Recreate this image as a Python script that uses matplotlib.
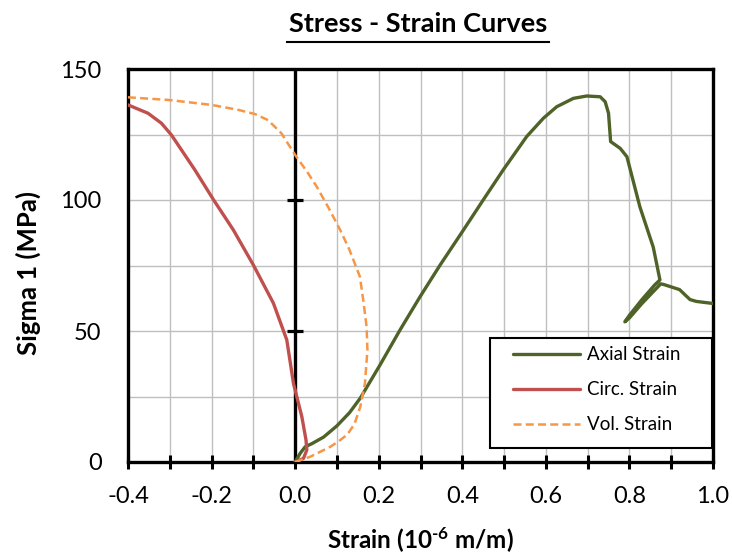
import matplotlib
matplotlib.use("Agg")
import matplotlib.pyplot as plt
from matplotlib.lines import Line2D
from matplotlib.patches import Rectangle

plt.rcParams['font.family'] = ['Lato', 'DejaVu Sans']
plt.rcParams['mathtext.fontset'] = 'custom'
plt.rcParams['mathtext.rm'] = 'Lato:bold'
plt.rcParams['mathtext.bf'] = 'Lato:bold'
plt.rcParams['mathtext.it'] = 'Lato:bold'

# ---- data ----
axial_x = [0.0, 0.012, 0.024, 0.04, 0.068, 0.10, 0.13, 0.156, 0.203, 0.251, 0.299, 0.347,
           0.403, 0.45, 0.498, 0.554, 0.594, 0.626, 0.666, 0.698, 0.73, 0.742, 0.75, 0.755,
           0.778, 0.794, 0.825, 0.857, 0.873, 0.86, 0.83, 0.80, 0.789, 0.80, 0.83, 0.86,
           0.875, 0.883, 0.92, 0.935, 0.945, 0.96, 1.0]
axial_y = [0.0, 3.3, 5.8, 7.0, 9.5, 13.8, 18.8, 24.4, 37.0, 50.4, 63.1, 75.2,
           88.6, 100.0, 111.5, 124.2, 131.2, 135.6, 138.8, 139.7, 139.4, 137.5, 133.1, 122.3,
           119.7, 116.5, 97.4, 82.0, 69.5, 67.5, 62.0, 56.0, 53.5, 55.0, 60.5, 65.5,
           68.0, 67.7, 65.8, 63.5, 62.0, 61.3, 60.5]

circ_x = [0.0, 0.02, 0.028, 0.026, 0.016, 0.004, -0.004, -0.02, -0.052, -0.10,
          -0.148, -0.195, -0.24, -0.296, -0.32, -0.352, -0.40]
circ_y = [0.0, 1.4, 4.6, 8.4, 17.3, 24.9, 30.0, 46.6, 60.6, 75.2,
          88.6, 100.0, 111.5, 124.8, 129.3, 133.1, 136.3]

vol_x = [0.0, 0.036, 0.084, 0.105, 0.125, 0.142, 0.156, 0.167, 0.173, 0.171, 0.163, 0.155,
         0.13, 0.108, 0.08, 0.052, 0.031, 0.0, -0.033, -0.065, -0.096, -0.136, -0.2, -0.304,
         -0.40]
vol_y = [0.0, 2.0, 5.8, 8.0, 10.5, 14.5, 21.1, 30.0, 42.7, 51.6, 61.8, 70.7,
         81.0, 88.5, 97.0, 105.0, 110.2, 117.2, 125.5, 130.5, 132.8, 134.4, 136.3, 138.2,
         139.2]

x_major = [-0.4, -0.2, 0.0, 0.2, 0.4, 0.6, 0.8, 1.0]
x_minor = [-0.3, -0.1, 0.1, 0.3, 0.5, 0.7, 0.9]
y_major = [0, 50, 100, 150]
y_grid = [25, 75, 125]

title = "Stress - Strain Curves"
xlabel = "Strain (10$^{\\text{-6}}$ m/m)"
ylabel = "Sigma 1 (MPa)"

GREEN = '#4F6228'
RED = '#C0504D'
ORANGE = '#F79646'

# ---- figure ----
fig = plt.figure(figsize=(7.32, 5.56), dpi=100)
ax = fig.add_axes([128/732, 1-462/556, 585/732, 393/556])

ax.set_xlim(-0.4, 1.0)
ax.set_ylim(0, 150)

# grid
for v in x_major + x_minor:
    ax.axvline(v, color='#BFBFBF', lw=1, zorder=0)
for v in y_major + y_grid:
    ax.axhline(v, color='#BFBFBF', lw=1, zorder=0)

# vertical axis line at x=0 with crossing ticks
ax.axvline(0, color='black', lw=2.4, zorder=2)
ax.plot([0]*len(y_major[1:-1]), y_major[1:-1], ls='none', marker='_', ms=12, mew=2.3,
        color='black', zorder=2, clip_on=False)

h1, = ax.plot(axial_x, axial_y, color=GREEN, lw=2.4, label='Axial Strain', zorder=3,
              solid_joinstyle='round', solid_capstyle='round')
h2, = ax.plot(circ_x, circ_y, color=RED, lw=2.4, label='Circ. Strain', zorder=3,
              solid_joinstyle='round', solid_capstyle='round')
h3, = ax.plot(vol_x, vol_y, color=ORANGE, lw=1.8, ls=(0, (3.2, 1.7)), label='Vol. Strain', zorder=3)

ax.set_xticks(x_major)
ax.set_xticks(x_minor, minor=True)
ax.set_xticklabels([f"{v:.1f}" for v in x_major])
ax.set_yticks(y_major)
ax.set_yticklabels([str(v) for v in y_major])
ax.tick_params(axis='x', which='both', direction='inout', length=10, width=2.2, labelsize=17, pad=12)
ax.tick_params(axis='y', length=0, labelsize=17, pad=19)

for s in ax.spines.values():
    s.set_linewidth(2.4)
    s.set_color('black')

fig.text(420/732, 1-540/556, xlabel, ha='center', va='center', fontsize=17.5, fontweight='bold')
fig.text(28/732, 1-273/556, ylabel, ha='center', va='center', rotation=90,
         fontsize=18.5, fontweight='bold')

# legend box
ax.add_patch(Rectangle((0.619, 0.036), 0.379, 0.28, transform=ax.transAxes, fill=True,
                       facecolor='white', edgecolor='black', lw=1.5, zorder=4))
leg = ax.legend(handles=[h1, h2, h3], loc='upper left', bbox_to_anchor=(0.658, 0.294),
                fontsize=13.5, handlelength=3.6, labelspacing=0.95, borderpad=0,
                frameon=False, borderaxespad=0, handletextpad=0.35)
leg.set_zorder(5)

t = fig.text(418/732, 1-24/556, title, ha='center', va='center', fontsize=19.5, fontweight='bold')
fig.canvas.draw()
bb = t.get_window_extent()
ul_y = 1 - 41.5/556
fig.add_artist(Line2D([(bb.x0 - 2)/732, (bb.x1 + 2)/732], [ul_y, ul_y], color='black', lw=1.5,
                      transform=fig.transFigure))

fig.savefig("out.png", dpi=100)
